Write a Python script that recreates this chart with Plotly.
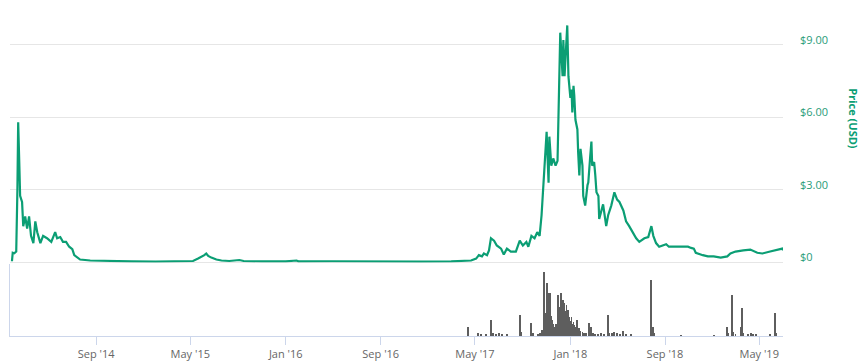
import plotly.graph_objects as go

# ---------------- data ----------------
price_dates = [
    "2014-01-28", "2014-01-30", "2014-02-03", "2014-02-08", "2014-02-11", "2014-02-13",
    "2014-02-16", "2014-02-18", "2014-02-23", "2014-02-26", "2014-03-03", "2014-03-08",
    "2014-03-13", "2014-03-18", "2014-03-24", "2014-03-29", "2014-04-03", "2014-04-11",
    "2014-04-18", "2014-04-28", "2014-05-09", "2014-05-19", "2014-05-24", "2014-06-01",
    "2014-06-08", "2014-06-16", "2014-06-24", "2014-07-02", "2014-07-07", "2014-07-22",
    "2014-08-17", "2014-10-07", "2014-12-01", "2015-02-01", "2015-04-01", "2015-05-08",
    "2015-05-21", "2015-05-29", "2015-06-06", "2015-06-11", "2015-06-16", "2015-06-24",
    "2015-07-07", "2015-07-20", "2015-08-09", "2015-09-04", "2015-09-15", "2015-11-01",
    "2016-01-01", "2016-01-29", "2016-02-03", "2016-04-29", "2016-06-15", "2016-09-01",
    "2016-12-14", "2017-03-01", "2017-04-08", "2017-04-21", "2017-05-04", "2017-05-11",
    "2017-05-19", "2017-05-24", "2017-06-01", "2017-06-06", "2017-06-11", "2017-06-19",
    "2017-06-26", "2017-07-07", "2017-07-14", "2017-07-22", "2017-08-01", "2017-08-14",
    "2017-08-24", "2017-09-01", "2017-09-10", "2017-09-15", "2017-09-23", "2017-10-01",
    "2017-10-08", "2017-10-14", "2017-10-19", "2017-10-21", "2017-10-24", "2017-10-26",
    "2017-11-01", "2017-11-03", "2017-11-06", "2017-11-08", "2017-11-13", "2017-11-18",
    "2017-11-24", "2017-11-29", "2017-12-01", "2017-12-04", "2017-12-06", "2017-12-12",
    "2017-12-14", "2017-12-17", "2017-12-19", "2017-12-24", "2017-12-27", "2017-12-29",
    "2018-01-01", "2018-01-04", "2018-01-06", "2018-01-09", "2018-01-11", "2018-01-14",
    "2018-01-19", "2018-01-21", "2018-01-24", "2018-01-27", "2018-02-01", "2018-02-03",
    "2018-02-08", "2018-02-14", "2018-02-16", "2018-02-21", "2018-02-24", "2018-02-26",
    "2018-03-03", "2018-03-06", "2018-03-09", "2018-03-14", "2018-03-16", "2018-03-21",
    "2018-03-26", "2018-04-03", "2018-04-08", "2018-04-16", "2018-04-24", "2018-05-01",
    "2018-05-07", "2018-05-17", "2018-05-24", "2018-06-01", "2018-06-11", "2018-06-19",
    "2018-06-27", "2018-07-10", "2018-07-20", "2018-07-28", "2018-08-02", "2018-08-09",
    "2018-08-17", "2018-08-27", "2018-09-04", "2018-09-11", "2018-09-24", "2018-10-12",
    "2018-10-30", "2018-11-07", "2018-11-14", "2018-11-19", "2018-11-24", "2018-12-07",
    "2018-12-20", "2019-01-04", "2019-01-22", "2019-02-08", "2019-02-16", "2019-03-01",
    "2019-03-21", "2019-04-08", "2019-04-26", "2019-05-09", "2019-05-29", "2019-06-16",
    "2019-06-29", "2019-07-01",
]
price_usd = [
    0.05, 0.40, 0.38, 0.45, 3.00, 5.80,
    4.00, 2.75, 2.50, 1.50, 1.90, 1.40,
    1.90, 1.10, 0.80, 1.70, 1.25, 0.80,
    1.10, 1.00, 0.85, 1.25, 1.00, 1.05,
    0.85, 0.85, 0.65, 0.55, 0.30, 0.12,
    0.08, 0.05, 0.04, 0.03, 0.03, 0.06,
    0.16, 0.22, 0.30, 0.37, 0.27, 0.20,
    0.12, 0.08, 0.06, 0.10, 0.06, 0.04,
    0.04, 0.08, 0.04, 0.05, 0.04, 0.03,
    0.03, 0.04, 0.05, 0.08, 0.16, 0.30,
    0.25, 0.37, 0.30, 0.50, 1.00, 0.90,
    0.70, 0.57, 0.33, 0.57, 0.45, 0.45,
    0.90, 0.70, 0.85, 0.65, 1.10, 1.00,
    1.25, 1.10, 1.95, 2.50, 3.00, 3.50,
    5.40, 4.55, 3.30, 5.20, 4.00, 4.30,
    4.00, 4.20, 5.60, 7.00, 9.50, 7.70,
    9.20, 7.70, 8.50, 9.80, 7.70, 7.30,
    6.80, 7.15, 6.20, 7.30, 6.90, 5.90,
    5.50, 4.55, 3.60, 4.70, 4.00, 2.75,
    2.35, 3.20, 3.30, 4.40, 5.00, 4.00,
    4.15, 3.60, 2.90, 2.75, 1.80, 2.10,
    2.40, 1.50, 1.95, 2.35, 2.90, 2.60,
    2.50, 2.15, 1.70, 1.50, 1.20, 1.00,
    0.85, 1.00, 1.05, 1.50, 1.10, 0.80,
    0.65, 0.70, 0.75, 0.65, 0.65, 0.65,
    0.65, 0.60, 0.57, 0.40, 0.37, 0.30,
    0.25, 0.25, 0.20, 0.25, 0.37, 0.45,
    0.50, 0.53, 0.40, 0.37, 0.45, 0.53,
    0.57, 0.50,
]

volume_dates = [
    "2017-04-13", "2017-05-09", "2017-05-16", "2017-05-29", "2017-06-11", "2017-06-16",
    "2017-06-24", "2017-07-02", "2017-07-09", "2017-07-22", "2017-08-24", "2017-08-27",
    "2017-09-23", "2017-09-28", "2017-10-10", "2017-10-15", "2017-10-21", "2017-10-24",
    "2017-10-26", "2017-10-29", "2017-11-01", "2017-11-03", "2017-11-06", "2017-11-08",
    "2017-11-11", "2017-11-13", "2017-11-16", "2017-11-18", "2017-11-21", "2017-11-24",
    "2017-11-26", "2017-11-29", "2017-12-01", "2017-12-04", "2017-12-06", "2017-12-09",
    "2017-12-12", "2017-12-14", "2017-12-17", "2017-12-19", "2017-12-22", "2017-12-24",
    "2017-12-27", "2017-12-29", "2018-01-01", "2018-01-04", "2018-01-06", "2018-01-09",
    "2018-01-11", "2018-01-14", "2018-01-17", "2018-01-19", "2018-01-22", "2018-01-24",
    "2018-01-27", "2018-02-01", "2018-02-06", "2018-02-11", "2018-02-18", "2018-02-21",
    "2018-02-24", "2018-03-01", "2018-03-06", "2018-03-14", "2018-03-21", "2018-03-29",
    "2018-04-08", "2018-04-11", "2018-04-18", "2018-04-24", "2018-05-01", "2018-05-09",
    "2018-05-17", "2018-05-24", "2018-06-06", "2018-07-28", "2018-08-02", "2018-08-05",
    "2018-10-12", "2019-01-04", "2019-02-08", "2019-02-10", "2019-02-21", "2019-02-24",
    "2019-03-01", "2019-03-16", "2019-03-18", "2019-03-21", "2019-04-03", "2019-04-10",
    "2019-04-15", "2019-04-23", "2019-05-29", "2019-06-11", "2019-06-13",
]
volume_musd = [
    9, 3, 1.5, 2, 16, 3,
    2, 2.5, 2, 1.5, 21, 4,
    12.7, 3, 2, 3, 6, 12,
    64, 23, 30, 53, 43, 25,
    43, 20, 16, 12, 9, 10,
    12, 15, 41, 29, 25, 43,
    30, 36, 33, 25, 31, 22,
    26, 19, 15, 19, 12, 14,
    11, 9, 16, 8, 7, 8,
    5, 4, 3, 3, 13, 5,
    9, 3, 2, 2, 3, 2,
    21, 3, 3, 4, 3, 2,
    5, 1.5, 1, 56, 9, 3,
    0.5, 0.5, 9, 3, 41, 4,
    2, 9, 28, 3, 2, 2.5,
    2, 2, 1, 23, 3,
]

price_ticks = [0, 3, 6, 9]
price_tick_labels = ["$0", "$3.00", "$6.00", "$9.00"]

GREEN = "#0b9e74"
LABEL_GREEN = "#2a9c79"
FONT = "Open Sans"

fig = go.Figure()

fig.add_trace(go.Bar(
    x=volume_dates, y=volume_musd, xaxis="x", yaxis="y2",
    marker=dict(color="#5e5e5e", line=dict(width=0)),
    width=2.3 * 86400000, showlegend=False,
))

fig.add_trace(go.Scatter(
    x=price_dates, y=price_usd, xaxis="x", yaxis="y",
    mode="lines", line=dict(color=GREEN, width=2.2),
    showlegend=False,
))

fig.update_layout(
    width=861, height=361,
    margin=dict(l=10, r=78, t=0, b=23),
    paper_bgcolor="white", plot_bgcolor="white",
    font=dict(family=FONT, size=11, color="#666666"),
    bargap=0,
    xaxis=dict(
        type="date",
        range=["2014-01-23", "2019-07-01"],
        anchor="y2",
        tick0="2014-09-01", dtick="M8", tickformat="%b '%y",
        ticks="outside", ticklen=8, tickcolor="#ccd6eb", tickwidth=1,
        showline=True, linecolor="#ccd6eb", linewidth=1,
        showgrid=False, zeroline=False,
        tickfont=dict(family=FONT, size=11, color="#666666"),
    ),
    yaxis=dict(
        domain=[74 / 338, 1],
        range=[0, 264 / 24.33],
        side="right", anchor="x",
        tickvals=price_ticks, ticktext=price_tick_labels,
        ticks="", ticklabelstandoff=16, ticklabelshift=-5,
        showgrid=True, gridcolor="#e6e6e6", gridwidth=1,
        zeroline=True, zerolinecolor="#e6e6e6", zerolinewidth=1,
        showline=False,
        tickfont=dict(family=FONT, size=11, color=LABEL_GREEN),
    ),
    yaxis2=dict(
        domain=[0, 72 / 338],
        range=[0, 72],
        anchor="x",
        showticklabels=False, ticks="",
        showgrid=False, zeroline=False,
        showline=True, linecolor="#ccd6eb", linewidth=1,
    ),
    annotations=[dict(
        text="<b>Price (USD)</b>", textangle=90,
        xref="paper", yref="paper", x=1.0918, y=0.645,
        xanchor="center", yanchor="middle", showarrow=False,
        font=dict(family=FONT, size=11, color=GREEN),
    )],
)

fig.write_html("out.html")
